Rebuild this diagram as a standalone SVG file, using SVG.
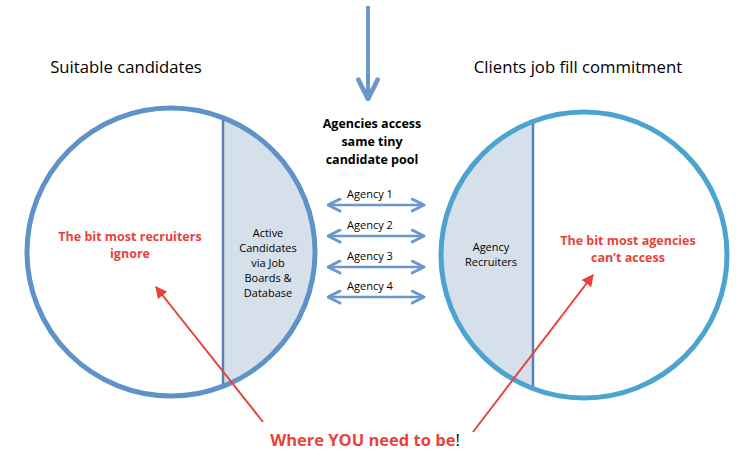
<svg xmlns="http://www.w3.org/2000/svg" width="751" height="472" viewBox="0 0 751 472">
<style>
.title{font-family:"Open Sans","Liberation Sans",sans-serif;font-size:16.7px;fill:#000}
.red{font-family:"Open Sans","Liberation Sans",sans-serif;font-weight:bold;font-size:12.5px;fill:#e8433b}
.small{font-family:"Open Sans","Liberation Sans",sans-serif;font-size:11px;fill:#000}
.bold{font-family:"Open Sans","Liberation Sans",sans-serif;font-weight:bold;font-size:12.5px;fill:#000}
.darr{stroke:#6a98cc;stroke-width:2.5;fill:none}
.redl{stroke:#e8433b;stroke-width:2;fill:none}
</style>
<defs>
<clipPath id="cl"><circle cx="171" cy="252" r="144"/></clipPath>
<clipPath id="cr"><circle cx="584" cy="255" r="143"/></clipPath>
<marker id="ah" viewBox="0 0 10 10" refX="9" refY="5" markerWidth="6" markerHeight="6" orient="auto-start-reverse" markerUnits="strokeWidth">
<path d="M1,1 L9,5 L1,9" fill="none" stroke="#6a98cc" stroke-width="2" stroke-linecap="round" stroke-linejoin="round"/>
</marker>
<marker id="rh" viewBox="0 0 10 10" refX="9" refY="5" markerWidth="6" markerHeight="6" orient="auto" markerUnits="strokeWidth">
<path d="M0,0 L10,5 L0,10 Z" fill="#e8433b"/>
</marker>
</defs>
<text class="title" x="126" y="73" text-anchor="middle">Suitable candidates</text>
<text class="title" x="578" y="73" text-anchor="middle">Clients job fill commitment</text>
<g id="left-circle">
<rect x="223" y="100" width="100" height="310" fill="#d6e0ea" clip-path="url(#cl)"/>
<line x1="223" y1="100" x2="223" y2="410" stroke="#5a80b4" stroke-width="2.5" clip-path="url(#cl)"/>
<circle cx="171" cy="252" r="144" fill="none" stroke="#5f92c8" stroke-width="5"/>
<text class="red" x="130" y="241" text-anchor="middle">The bit most recruiters</text>
<text class="red" x="130" y="258" text-anchor="middle">ignore</text>
<text class="small" x="268" y="237" text-anchor="middle">Active</text>
<text class="small" x="268" y="252" text-anchor="middle">Candidates</text>
<text class="small" x="268" y="267" text-anchor="middle">via Job</text>
<text class="small" x="268" y="282" text-anchor="middle">Boards &amp;</text>
<text class="small" x="268" y="297" text-anchor="middle">Database</text>
</g>
<g id="right-circle">
<rect x="430" y="100" width="103" height="310" fill="#d6e0ea" clip-path="url(#cr)"/>
<line x1="533" y1="100" x2="533" y2="410" stroke="#5a80b4" stroke-width="2.5" clip-path="url(#cr)"/>
<circle cx="584" cy="255" r="143" fill="none" stroke="#4aa4cf" stroke-width="5"/>
<text class="small" x="491" y="251" text-anchor="middle">Agency</text>
<text class="small" x="491" y="266" text-anchor="middle">Recruiters</text>
<text class="red" x="628" y="245" text-anchor="middle">The bit most agencies</text>
<text class="red" x="628" y="262" text-anchor="middle">can’t access</text>
</g>
<g id="pool-label">
<text class="bold" x="372" y="128" text-anchor="middle">Agencies access</text>
<text class="bold" x="372" y="146" text-anchor="middle">same tiny</text>
<text class="bold" x="372" y="164" text-anchor="middle">candidate pool</text>
</g>
<g id="agencies">
<text class="small" x="370" y="198" text-anchor="middle">Agency 1</text>
<text class="small" x="370" y="229" text-anchor="middle">Agency 2</text>
<text class="small" x="370" y="260" text-anchor="middle">Agency 3</text>
<text class="small" x="370" y="290" text-anchor="middle">Agency 4</text>
</g>
<g id="where">
<text x="365" y="446" text-anchor="middle" font-family="'Open Sans','Liberation Sans',sans-serif" font-weight="bold" font-size="16.5" fill="#e8433b">Where YOU need to be<tspan fill="#000" font-weight="normal">!</tspan></text>
</g>
<g id="connectors">
<line x1="368" y1="6" x2="368" y2="99" stroke="#6a98cc" stroke-width="4" marker-end="url(#ah)"/>
<line class="darr" x1="328" y1="205" x2="424" y2="205" marker-start="url(#ah)" marker-end="url(#ah)"/>
<line class="darr" x1="328" y1="236" x2="424" y2="236" marker-start="url(#ah)" marker-end="url(#ah)"/>
<line class="darr" x1="328" y1="267" x2="424" y2="267" marker-start="url(#ah)" marker-end="url(#ah)"/>
<line class="darr" x1="328" y1="297" x2="424" y2="297" marker-start="url(#ah)" marker-end="url(#ah)"/>
<line class="redl" x1="263" y1="422" x2="156" y2="287" marker-end="url(#rh)"/>
<line class="redl" x1="473" y1="432" x2="593" y2="275" marker-end="url(#rh)"/>
</g>
</svg>
